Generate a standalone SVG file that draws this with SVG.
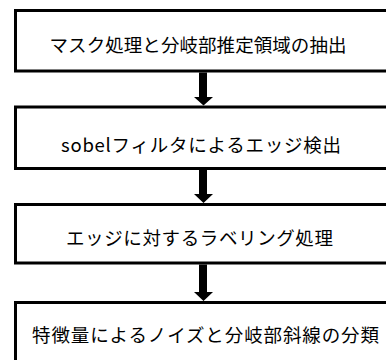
<svg xmlns="http://www.w3.org/2000/svg" width="386" height="360" viewBox="0 0 386 360">
<style>
.box{fill:#fff;stroke:#000;stroke-width:3}
.lbl{font-family:"Noto Sans CJK JP","Noto Sans",sans-serif;font-size:18.5px;fill:#000;text-anchor:middle;dominant-baseline:central}
.arr{fill:#000;stroke:none}
</style>
<rect width="386" height="360" fill="#fff"/>
<g id="node1"><rect class="box" x="15.5" y="10.5" width="380" height="60.5"/><text class="lbl" x="198" y="43.5" textLength="297" lengthAdjust="spacing">マスク処理と分岐部推定領域の抽出</text></g>
<g id="node2"><rect class="box" x="15.5" y="107" width="380" height="61.5"/><text class="lbl" x="201" y="143.5" textLength="280" lengthAdjust="spacing">sobelフィルタによるエッジ検出</text></g>
<g id="node3"><rect class="box" x="15.5" y="204.5" width="380" height="58.5"/><text class="lbl" x="199.5" y="237" textLength="267" lengthAdjust="spacing">エッジに対するラベリング処理</text></g>
<g id="node4"><rect class="box" x="15.5" y="302.5" width="380" height="70"/><text class="lbl" x="205.5" y="333.5" textLength="347" lengthAdjust="spacing">特徴量によるノイズと分岐部斜線の分類</text></g>
<g id="connectors">
<path class="arr" d="M199 72.5 H207 V97 H213 L203.5 105.5 L194 97 H199 Z"/>
<path class="arr" d="M199 170 H207 V194 H213 L203.5 203 L194 194 H199 Z"/>
<path class="arr" d="M199 264.5 H207 V292 H213 L203.5 301 L194 292 H199 Z"/>
</g>
</svg>
